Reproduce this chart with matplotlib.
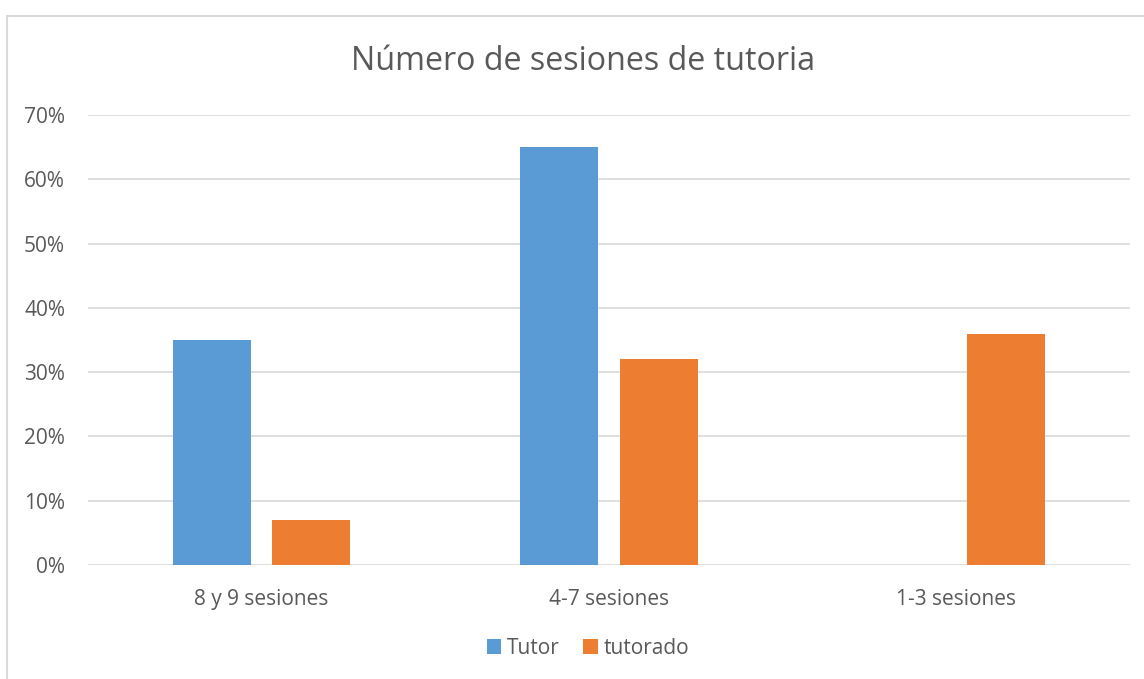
import matplotlib

matplotlib.use("Agg")

import matplotlib.pyplot as plt
import matplotlib.ticker as mticker
import numpy as np
from matplotlib.patches import Rectangle

plt.rcParams["font.family"] = ["Open Sans", "DejaVu Sans"]

categories = ["8 y 9 sesiones", "4-7 sesiones", "1-3 sesiones"]
tutor = [0.35, 0.65, 0.0]
tutorado = [0.07, 0.32, 0.36]
series_names = ["Tutor", "tutorado"]

BLUE = "#5B9BD5"
ORANGE = "#ED7D31"
TEXT = "#595959"
GRID = "#D9D9D9"

fig = plt.figure(figsize=(11.44, 6.79), dpi=100)
ax = fig.add_axes([88 / 1144, 114 / 679, 1042 / 1144, 450 / 679])

x = np.arange(len(categories))
w = 0.225
off = 0.143
ax.bar(x - off, tutor, width=w, color=BLUE, label=series_names[0], zorder=3)
ax.bar(x + off, tutorado, width=w, color=ORANGE, label=series_names[1], zorder=3)

ax.set_xlim(-0.5, len(categories) - 0.5)
ax.set_ylim(0, 0.70)
ax.yaxis.set_major_locator(mticker.MultipleLocator(0.10))
ax.yaxis.set_major_formatter(mticker.FuncFormatter(lambda v, _: f"{v * 100:.0f}%"))
ax.set_xticks(x)
ax.set_xticklabels(categories)

ax.grid(True, axis="y", color=GRID, linewidth=1.2, zorder=0)
for s in ax.spines.values():
    s.set_visible(False)
ax.tick_params(axis="both", length=0, colors=TEXT, labelsize=15)
ax.tick_params(axis="x", pad=17)
ax.tick_params(axis="y", pad=16.5)

fig.suptitle("Número de sesiones de tutoria", x=583 / 1144, y=1 - 62 / 679,
             va="center", fontsize=23.2, color=TEXT)

fig.legend(loc="center", bbox_to_anchor=(588 / 1144, 1 - 648 / 679), ncol=2,
           frameon=False, fontsize=15, labelcolor=TEXT, handlelength=0.7,
           handleheight=0.7, handletextpad=0.3, columnspacing=1.1)

# light chart border
fig.patches.append(Rectangle((6.5 / 1144, -0.1), 1.2, 1 - 15.5 / 679 + 0.1,
                             transform=fig.transFigure, fill=False,
                             edgecolor=GRID, linewidth=1.5))

fig.savefig("out.png", dpi=100)
